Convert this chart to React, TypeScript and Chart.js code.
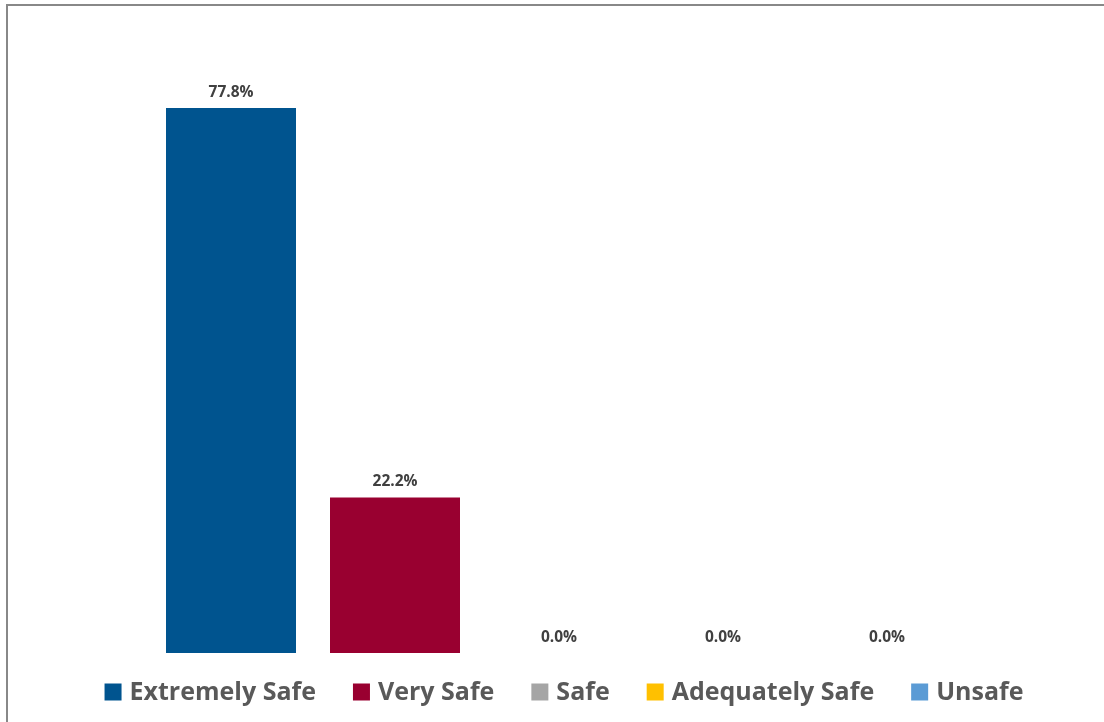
import React, { useEffect, useRef } from "react";
import { Chart, registerables } from "chart.js";

Chart.register(...registerables);

const categories = ["Extremely Safe", "Very Safe", "Safe", "Adequately Safe", "Unsafe"];
const values = [77.8, 22.2, 0.0, 0.0, 0.0];
const colors = ["#00548F", "#990030", "#A5A5A5", "#FFC000", "#5B9BD5"];
const yMax = 90;

const FONT = "'Open Sans', Lato, sans-serif";

const valueLabelPlugin = {
  id: "valueLabels",
  afterDatasetsDraw(chart: any) {
    const ctx = chart.ctx;
    ctx.save();
    ctx.font = `bold 15.5px ${FONT}`;
    ctx.fillStyle = "#404040";
    ctx.textAlign = "center";
    ctx.textBaseline = "alphabetic";
    chart.data.datasets.forEach((ds: any, i: number) => {
      const meta = chart.getDatasetMeta(i);
      meta.data.forEach((bar: any, j: number) => {
        const v = ds.data[j];
        ctx.fillText(v.toFixed(1) + "%", bar.x, bar.y - 11);
      });
    });
    ctx.restore();
  },
};

const legendPlugin = {
  id: "customLegend",
  afterDraw(chart: any) {
    const ctx = chart.ctx;
    ctx.save();
    const fontSize = 25;
    ctx.font = `bold ${fontSize}px ${FONT}`;
    const box = 17;
    const textGap = 8;
    const itemGap = 37;
    const widths = chart.data.datasets.map((ds: any) => box + textGap + ctx.measureText(ds.label).width);
    const total = widths.reduce((a: number, b: number) => a + b, 0) + itemGap * (widths.length - 1);
    let x = 564 - total / 2;
    const cy = 692;
    chart.data.datasets.forEach((ds: any, i: number) => {
      ctx.fillStyle = ds.backgroundColor;
      ctx.fillRect(x, cy - box / 2, box, box);
      ctx.fillStyle = "#595959";
      ctx.textAlign = "left";
      ctx.textBaseline = "middle";
      ctx.fillText(ds.label, x + box + textGap, cy + 1);
      x += widths[i] + itemGap;
    });
    ctx.restore();
  },
};

export default function App() {
  const ref = useRef<HTMLCanvasElement>(null);
  useEffect(() => {
    if (!ref.current) return;
    const chart = new Chart(ref.current, {
      type: "bar",
      data: {
        labels: [""],
        datasets: categories.map((c, i) => ({
          label: c,
          data: [values[i]],
          backgroundColor: colors[i],
          borderWidth: 0,
          categoryPercentage: 1,
          barPercentage: 130 / 164,
        })),
      },
      options: {
        animation: false,
        responsive: false,
        maintainAspectRatio: false,
        layout: { padding: { left: 149, right: 135, top: 22.5, bottom: 69 } },
        plugins: { legend: { display: false }, tooltip: { enabled: false } },
        scales: {
          x: { display: false },
          y: { display: false, min: 0, max: yMax },
        },
      },
      plugins: [valueLabelPlugin, legendPlugin],
    });
    return () => chart.destroy();
  }, []);
  return (
    <div style={{ position: "absolute", left: 0, top: 0, width: 1104, height: 722, background: "#fff", overflow: "hidden" }}>
      <div style={{ position: "absolute", left: 6, top: 4, width: 1200, height: 800, border: "2px solid #888888", boxSizing: "border-box" }} />
      <canvas ref={ref} width={1104} height={722} style={{ position: "absolute", left: 0, top: 0 }} />
    </div>
  );
}
